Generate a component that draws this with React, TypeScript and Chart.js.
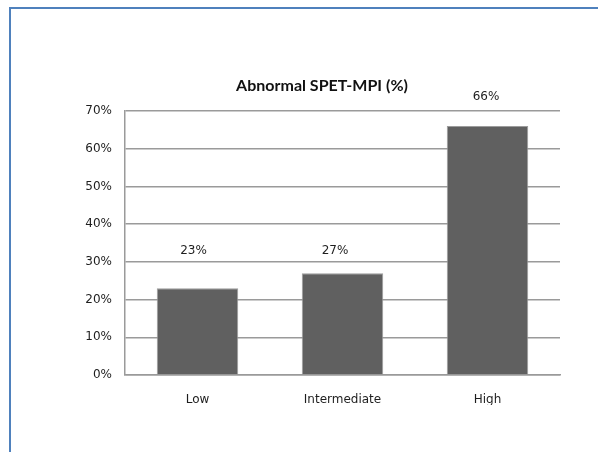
import React, { useEffect, useRef } from "react";
import { Chart, registerables } from "chart.js";

Chart.register(...registerables);

const categories = ["Low", "Intermediate", "High"];
const abnormalPct = [23, 27, 66];
const yTicks = [0, 10, 20, 30, 40, 50, 60, 70];
const chartTitle = "Abnormal SPET-MPI (%)";

const FONT = "'DejaVu Sans', sans-serif";
const TEXT = "#1e1e1e";

const titlePlugin = {
  id: "customTitle",
  afterDraw(chart: any) {
    const ctx = chart.ctx;
    ctx.save();
    ctx.font = "bold 16px Lato, sans-serif";
    ctx.fillStyle = "#111";
    ctx.textAlign = "center";
    ctx.textBaseline = "middle";
    ctx.fillText(chartTitle, 322, 86);
    ctx.restore();
  },
};

const labelOffsets = [
  { dx: -4, dy: 37.5 },
  { dx: -7.5, dy: 22.5 },
  { dx: -1.5, dy: 29 },
];

const valueLabelPlugin = {
  id: "valueLabels",
  afterDatasetsDraw(chart: any) {
    const ctx = chart.ctx;
    const meta = chart.getDatasetMeta(0);
    ctx.save();
    ctx.font = "12px " + FONT;
    ctx.fillStyle = TEXT;
    ctx.textAlign = "center";
    ctx.textBaseline = "middle";
    meta.data.forEach((bar: any, i: number) => {
      const o = labelOffsets[i] || { dx: 0, dy: 30 };
      ctx.fillText(abnormalPct[i] + "%", bar.x + o.dx, bar.y - o.dy);
    });
    ctx.restore();
  },
};

export default function App() {
  const ref = useRef<HTMLCanvasElement | null>(null);

  useEffect(() => {
    if (!ref.current) return;
    const chart = new Chart(ref.current, {
      type: "bar",
      data: {
        labels: categories,
        datasets: [
          {
            data: abnormalPct,
            backgroundColor: "#606060",
            borderColor: "#9c9c9c",
            borderWidth: 1,
            barPercentage: 0.562,
            categoryPercentage: 1,
          },
        ],
      },
      options: {
        animation: false,
        responsive: false,
        devicePixelRatio: 1,
        layout: { padding: { left: 0, top: 111, right: 38, bottom: 47 } },
        plugins: {
          legend: { display: false },
          title: { display: false },
          tooltip: { enabled: false },
        },
        scales: {
          x: {
            grid: { display: false, drawTicks: false },
            border: { display: true, color: "#9a9a9a", width: 1.5 },
            ticks: { font: { family: FONT, size: 12 }, color: TEXT, padding: 18 },
            afterFit(scale: any) {
              scale.height = 30;
            },
          },
          y: {
            min: 0,
            max: 70,
            afterBuildTicks(scale: any) {
              scale.ticks = yTicks.map((v) => ({ value: v }));
            },
            grid: { color: "#9a9a9a", lineWidth: 1.5, drawTicks: false },
            border: { display: true, color: "#9a9a9a", width: 1.5 },
            ticks: {
              font: { family: FONT, size: 12 },
              color: TEXT,
              padding: 13,
              callback: (v: any) => v + "%",
            },
            afterFit(scale: any) {
              scale.width = 125;
            },
          },
        },
      },
      plugins: [titlePlugin, valueLabelPlugin],
    });
    return () => chart.destroy();
  }, []);

  return (
    <div style={{ position: "fixed", left: 0, top: 0, width: 598, height: 452, background: "#fff" }}>
      <div
        style={{
          position: "absolute",
          left: 9,
          top: 7,
          width: 589,
          height: 445,
          borderLeft: "2px solid #4f81bd",
          borderTop: "2px solid #4f81bd",
          boxSizing: "border-box",
        }}
      />
      <canvas
        ref={ref}
        width={598}
        height={452}
        style={{ position: "absolute", left: 0, top: 0, width: 598, height: 452 }}
      />
    </div>
  );
}
